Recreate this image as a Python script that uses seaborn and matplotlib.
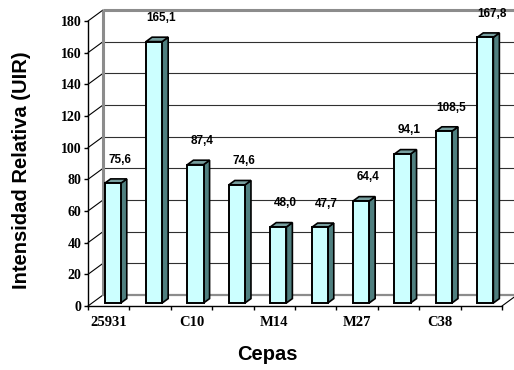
import numpy as np
import pandas as pd
import matplotlib
matplotlib.use("Agg")
import matplotlib.pyplot as plt
from matplotlib.patches import Polygon
import seaborn as sns

# Strain labels (only every other one is printed on the axis) and intensities
strain_labels = ["25931", "", "C10", "", "M14", "", "M27", "", "C38", ""]
intensity = [75.6, 165.1, 87.4, 74.6, 48.0, 47.7, 64.4, 94.1, 108.5, 167.8]
y_ticks = [0, 20, 40, 60, 80, 100, 120, 140, 160, 180]

df = pd.DataFrame({"pos": range(len(intensity)), "uir": intensity})

sns.set_style("white")
plt.rcParams["font.family"] = ["Liberation Sans", "DejaVu Sans"]
plt.rcParams["text.color"] = "black"
plt.rcParams["xtick.color"] = "black"
plt.rcParams["ytick.color"] = "black"
plt.rcParams["axes.labelcolor"] = "black"

W, H = 514, 370
fig = plt.figure(figsize=(W / 100, H / 100), dpi=100)
L, R, T, B = 88, 502, 21, 306
ax = fig.add_axes([L / W, 1 - B / H, (R - L) / W, (B - T) / H])
n = len(intensity)

face, side, top = "#CCFFFF", "#4F7F7F", "#779F9F"

sns.barplot(data=df, x="pos", y="uir", order=list(range(n)), width=0.39,
            color=face, saturation=1, edgecolor="black", linewidth=1.4,
            errorbar=None, ax=ax, zorder=3)
bars = list(ax.patches)

ax.set_xlim(-0.5, n - 0.5)
ax.set_ylim(0, 180)

# pixel -> data unit helpers for the pseudo-3D depth
px_x = (R - L) / n
px_y = (B - T) / 180.0
def dx(p):
    return p / px_x
def dy(p):
    return p / px_y

# walls and floor of the 3D box
wx, wy = dx(15), dy(11)
x0, x1 = -0.5, n - 0.5
ax.add_patch(Polygon([(x0, 0), (x1, 0), (x1 + wx, wy), (x0 + wx, wy)],
                     closed=True, fc="white", ec="none", clip_on=False, zorder=0))
for t in y_ticks:
    ax.plot([x0, x0 + wx], [t, t + wy], color="black", lw=0.8,
            clip_on=False, zorder=1)
    if 0 < t < 180:
        ax.plot([x0 + wx, x1 + wx + 1], [t + wy] * 2, color="#303030",
                lw=0.8, clip_on=False, zorder=1)
ax.plot([x0 + wx, x1 + wx + 1], [180 + wy] * 2, color="#8c8c8c", lw=2.2,
        clip_on=False, zorder=1, solid_capstyle="butt")
ax.plot([x0 + wx, x0 + wx], [wy, 180 + wy], color="#8c8c8c", lw=2.2,
        clip_on=False, zorder=1, solid_capstyle="butt")
ax.plot([x0 + wx, x1 + wx + 1], [wy, wy], color="#8c8c8c", lw=1.6,
        clip_on=False, zorder=1)
ax.plot([x1, x1 + wx], [0, wy], color="black", lw=0.8, clip_on=False, zorder=1)

# extrude each bar: shift the face into the box, add side and top facets
sx, sy = dx(4), dy(3)
bx, by = dx(6), dy(4.4)
for bar, v in zip(bars, intensity):
    x = bar.get_x() + sx
    w = bar.get_width()
    h = bar.get_height()
    bar.set_x(x)
    bar.set_y(sy)
    bar.set_clip_on(False)
    ax.add_patch(Polygon([(x + w, sy), (x + w + bx, sy + by),
                          (x + w + bx, sy + h + by), (x + w, sy + h)],
                         closed=True, fc=side, ec="black", lw=1.2,
                         clip_on=False, zorder=2.9))
    ax.add_patch(Polygon([(x, sy + h), (x + w, sy + h),
                          (x + w + bx, sy + h + by), (x + bx, sy + h + by)],
                         closed=True, fc=top, ec="black", lw=1.2,
                         clip_on=False, zorder=2.9))
    ax.annotate(f"{v:.1f}".replace(".", ","), xy=(x + w / 2, sy + h),
                xytext=(5, 17), textcoords="offset points", ha="center",
                va="center", fontsize=8.5, fontweight="bold", color="black",
                annotation_clip=False, zorder=4)

# axes lines and ticks
for s in ["top", "right"]:
    ax.spines[s].set_visible(False)
for s in ["left", "bottom"]:
    ax.spines[s].set_color("black")
    ax.spines[s].set_linewidth(1.0)
    ax.spines[s].set_zorder(5)

serif = {"family": ["Liberation Serif", "DejaVu Serif"], "weight": "bold"}
ax.set_yticks(y_ticks)
ax.set_yticklabels([str(t) for t in y_ticks], fontdict=serif, fontsize=10,
                   color="black")
ax.tick_params(axis="y", direction="out", length=3, width=1, color="black",
               pad=1.5, left=True)
ax.set_xticks(np.arange(n + 1) - 0.5)
ax.set_xticklabels([""] * (n + 1))
ax.set_xticks(range(n), labels=strain_labels, minor=True)
for lab in ax.get_xticklabels(minor=True):
    lab.set_fontfamily(["Liberation Serif", "DejaVu Serif"])
    lab.set_fontweight("bold")
    lab.set_fontsize(10.5)
    lab.set_color("black")
ax.tick_params(axis="x", which="major", direction="out", length=3, width=1,
               color="black", bottom=True)
ax.tick_params(axis="x", which="minor", length=0, pad=7, bottom=True)
ax.set_xlabel("")
ax.set_ylabel("")

fig.text(22 / W, 1 - 170 / H, "Intensidad Relativa (UIR)", rotation=90,
         ha="center", va="center", fontsize=14.5, fontweight="bold",
         color="black")
fig.text(267 / W, 1 - 354 / H, "Cepas", ha="center", va="center",
         fontsize=14.5, fontweight="bold", color="black")

fig.savefig("out.png", dpi=100, facecolor="white")
